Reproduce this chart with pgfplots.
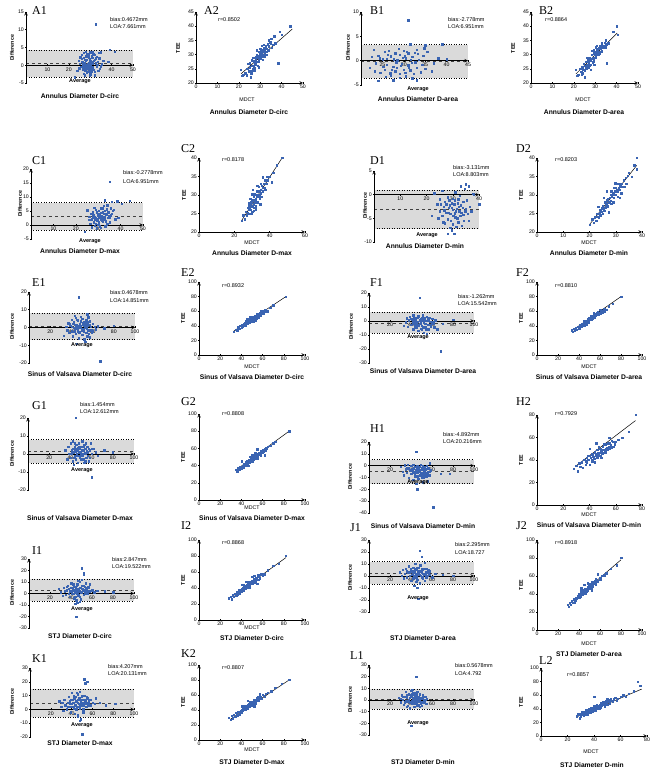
\documentclass[border=0pt]{standalone}
\usepackage{fontspec}
\setmainfont{Liberation Sans}
\newfontfamily\lf{Liberation Serif}
\usepackage{pgfplots}
\pgfplotsset{compat=1.18}
\definecolor{ptb}{RGB}{58,100,178}
\definecolor{bandg}{RGB}{218,218,218}
\pgfplotsset{
 common/.style={scale only axis, clip=false, axis on top,
   tick label style={font=\fontsize{5.2}{6}\selectfont},
   /pgf/number format/assume math mode=true,
   tick align=outside, major tick length=2pt,
   axis line style={line width=0.6pt,-},
   every tick/.style={line width=0.5pt, black},
   xticklabel style={inner sep=1pt}, yticklabel style={inner sep=1pt},
   hide obscured x ticks=false, hide obscured y ticks=false,
   anchor=south west},
 ba/.style={common, axis y line=left, axis x line=middle},
 sc/.style={common, axis lines=left},
 pts/.style={only marks, mark=square*, mark size=0.7pt, color=ptb, mark options={draw=ptb, fill=ptb}},
 reg/.style={black, line width=0.5pt, no marks},
 meanl/.style={black!75, dashed, line width=0.5pt, no marks},
 loal/.style={black, dotted, line width=0.5pt, no marks},
}
\tikzset{
 lt/.style={font=\lf\fontsize{12}{12}\selectfont, anchor=base west, inner sep=0},
 bt/.style={font=\fontsize{5.5}{6.6}\selectfont, anchor=base west, inner sep=0},
 ttl/.style={font=\bfseries\fontsize{6.7}{8}\selectfont, anchor=base, inner sep=0},
 dl/.style={font=\bfseries\fontsize{5.3}{6}\selectfont, rotate=90, anchor=center, inner sep=0},
 al/.style={font=\bfseries\fontsize{5.5}{6}\selectfont, anchor=base, inner sep=0},
 ml/.style={font=\fontsize{5.3}{6}\selectfont, anchor=base, inner sep=0},
}
\newcommand{\band}[4]{% xmin xmax lo hi
 \fill[bandg] (axis cs:#1,#3) rectangle (axis cs:#2,#4);
 \addplot[loal] coordinates {(#1,#3)(#2,#3)};
 \addplot[loal] coordinates {(#1,#4)(#2,#4)};}
\begin{document}
\begin{tikzpicture}[x=1pt,y=1pt]
\useasboundingbox (0,0) rectangle (669,776);
% ---------------- Row 1 ----------------
\begin{axis}[ba, at={(26pt,{(776-83)*1pt})}, width=107pt, height=71pt, xmin=0,xmax=50,ymin=-5,ymax=15, xtick={10,20,30,40,50}, ytick={-5,0,5,10,15}]
\band{0}{50}{-3.4}{4.3}
\addplot[meanl] coordinates {(0,0.47)(50,0.47)};
\addplot[pts] coordinates {(32.5,11.6)(39,4.3)(41.5,3.8)(22.8,-3.4)(27,3.6)(28,3.8)(30,3.7)(31,3.8)(34,3.5)(35,3.7)(36,1.2)(38.5,1.0)(25,0.5)(26,1.8)(26.5,-1.2)(27,2.2)(27.5,0.8)(28,-0.5)(28.5,1.5)(29,2.8)(29,-1.8)(29.5,0.2)(30,1.1)(30,-2.5)(30.5,-0.8)(31,2.1)(31,0.4)(31.5,-1.3)(32,1.6)(32,-2.8)(32.5,0.6)(33,-0.3)(33,2.4)(24,-1.6)(24.5,1.2)(25.5,-0.4)(26,2.9)(27,-2.3)(28,0.1)(28.8,-0.9)(29.8,1.9)(30.8,-1.6)(31.8,2.9)(33.5,1.0)(34.5,-1.0)(35.5,0.3)(26.8,0.3)(29.2,0.6)(30.2,-0.2)(27.8,1.2)
(26.2,1.0)(26.7,-0.6)(27.3,1.6)(27.7,-1.4)(28.1,2.5)(28.4,-2.0)(28.7,0.5)(29.1,-0.3)(29.4,2.2)(29.6,-1.1)(30.1,0.4)(30.4,-1.9)(30.6,2.6)(30.9,0.9)(31.3,-0.5)(31.6,1.2)(32.2,-1.8)(32.7,2.0)(33.2,0.2)(33.8,-1.5)(34.2,2.0)(35,-0.3)(25.3,2.3)(24.8,-0.8)(28.6,3.2)(31.4,3.3)(27.4,-2.8)(29.9,-3.0)};
\end{axis}
\begin{axis}[sc, at={(196pt,{(776-83)*1pt})}, width=107pt, height=71pt, xmin=0,xmax=50,ymin=20,ymax=45, xtick={0,10,...,50}, ytick={20,25,...,45}]
\addplot[pts] coordinates {(21,24.7)(21.5,22.5)(22,23)(23,23.5)(24,25)(24.5,24)(25,25.5)(25,27)(25.5,22)(26,26)(26,28)(26.5,25)(27,27.5)(27,26)(27.5,29)(28,28)(28,26.5)(28.5,30)(29,29)(29,27.5)(29.5,31)(30,30)(30,28.5)(30,32)(30.5,29.5)(31,31)(31,30)(31.5,32.5)(32,30.5)(32,31.5)(32.5,33)(33,32)(33,30)(34,33)(34,35)(35,34)(35.5,32.5)(36,33.5)(37,34)(38.5,27)(39,38)(40,37)(44,40)(27.5,24.5)(26.5,29)(29.2,25.5)(31.2,28.2)(24.2,26.7)(28.3,31.5)(30.8,33.2)
(25.8,23.5)(26.8,27.8)(27.6,27)(28.6,28.8)(29.4,28.3)(29.8,30.6)(30.3,31.3)(30.7,30.8)(31.4,31.6)(31.8,29.4)(32.3,32.2)(32.8,31)(33.4,33.6)(28.8,26)(27.2,25.2)(26.2,24.3)(24.8,24.2)(23.6,22.8)(33.7,31.5)(34.6,34.3)(35.2,35.5)(36.6,36.5)(29.6,29.6)(31.6,33.5)(28.1,29.3)};
\addplot[reg] coordinates {(21,23.2)(45,39)};
\end{axis}
\begin{axis}[ba, at={(361pt,{(776-85)*1pt})}, width=107pt, height=73pt, xmin=20,xmax=45,ymin=-5,ymax=10, xtick={25,30,...,45}, ytick={-5,0,5,10}]
\band{20}{45}{-3.6}{3.3}
\addplot[meanl] coordinates {(20,-0.1)(45,-0.1)};
\addplot[pts] coordinates {(31,8.3)(24,-4.1)(27.5,-4.0)(33,-4.0)(35,3.2)(39,3.4)(31.5,3.4)(38,0.5)(40,0.3)(22,-1.5)(23,2.2)(23.5,-0.5)(24,1.0)(24.5,-2.5)(25,0.3)(25.5,1.8)(25.5,-1.8)(26,-0.8)(26.5,2.0)(27,-3.0)(27,0.9)(27.5,-1.2)(28,1.5)(28,-2.2)(28.5,0.1)(29,-3.5)(29,1.2)(29.5,-0.6)(30,2.1)(30,-1.9)(30.5,0.5)(30.5,-3.2)(31,1.5)(31,-0.9)(31.5,-2.0)(32,0.8)(32,-3.6)(32.5,1.6)(33,-1.4)(33.5,0.2)(34,-2.4)(34.5,1.0)(33,2.3)(29,-2.7)(26,0.4)(28.2,-0.3)(30.2,0.9)(27.2,-1.9)(31.8,-0.4)
(24.3,0.5)(25.2,-1.3)(26.2,1.2)(26.8,-2.6)(27.6,0.3)(28.4,-1.5)(28.8,2.4)(29.3,-1.0)(29.7,0.6)(30.3,-2.5)(30.7,1.9)(31.2,-1.5)(31.6,0.2)(32.3,-2.7)(32.7,-0.3)(33.3,1.4)(34.3,-0.8)(35,-1.6)(35.5,1.8)(36.5,-2.2)(37,-0.5)(25.8,-3.3)(23.2,-2.2)(22.5,0.8)(34.8,2.6)};
\end{axis}
\begin{axis}[sc, at={(531pt,{(776-83)*1pt})}, width=107pt, height=71pt, xmin=0,xmax=50,ymin=20,ymax=45, xtick={0,10,...,50}, ytick={20,25,...,45}]
\addplot[pts] coordinates {(21,24.7)(21.5,22.5)(22,23)(23,25)(23.5,24)(24,25.5)(24,23.5)(25,26)(25,24.5)(25.5,27.5)(26,26.5)(26,25)(26.5,28)(27,27)(27,25.5)(27.5,29)(28,28)(28,26.5)(28.5,30)(29,29)(29,27.5)(29.5,30.5)(30,31)(30,29)(30.5,30)(31,32)(31,30.5)(31.5,31)(32,33)(32,31)(32.5,32)(33,34)(33.5,32.5)(34,33)(35,35)(35.5,27)(36,34)(38.5,38)(40,40)(40.5,37)(28.3,31.3)(26.3,29)(24.6,26.8)(29.5,26.4)(30.8,33.2)(27.8,24.7)(33,31.2)(25.2,22.1)
(25.8,25.3)(26.8,27.6)(27.4,26.3)(28.6,28.6)(29.3,28.3)(29.8,30.2)(30.3,29.6)(30.7,31.5)(31.3,31.4)(31.8,32.2)(32.2,30.4)(32.8,33.2)(33.3,32.7)(34.3,34.2)(34.6,32.6)(28.8,27.3)(27.2,28.3)(26.2,26.2)(24.3,24.7)(23.6,23.1)(30.2,32.6)(29.2,31.6)(35.2,33.6)(31.6,30.1)};
\addplot[reg] coordinates {(21,23.2)(40.3,37.6)};
\end{axis}
\node[lt] at (32,{776-15}) {A1};
\node[bt] at (110,{776-22}) {bias:0.4672mm};
\node[bt] at (110,{776-28.5}) {LOA:7.661mm};
\node[dl] at (12,{776-48}) {Difference};
\node[al] at (80,{776-83}) {Average};
\node[ttl] at (80,{776-99}) {Annulus Diameter D-circ};
\node[lt] at (204,{776-15}) {A2};
\node[bt] at (218,{776-22}) {r=0.8502};
\node[dl] at (178,{776-48}) {TEE};
\node[ml] at (247,{776-102}) {MDCT};
\node[ttl] at (249,{776-115}) {Annulus Diameter D-circ};
\node[lt] at (370,{776-15}) {B1};
\node[bt] at (448,{776-22}) {bias:-2.778mm};
\node[bt] at (448,{776-28.5}) {LOA:6.951mm};
\node[dl] at (348,{776-48}) {Difference};
\node[al] at (418,{776-91}) {Average};
\node[ttl] at (418,{776-101.5}) {Annulus Diameter D-area};
\node[lt] at (539,{776-15}) {B2};
\node[bt] at (545,{776-22}) {r=0.8864};
\node[dl] at (513,{776-48}) {TEE};
\node[ml] at (583,{776-102}) {MDCT};
\node[ttl] at (584,{776-115}) {Annulus Diameter D-area};
% ---------------- Row 2 ----------------
\begin{axis}[ba, at={(31pt,{(776-239)*1pt})}, width=112pt, height=70pt, xmin=0,xmax=50,ymin=-5,ymax=20, xtick={10,20,30,40,50}, ytick={-5,0,5,10,15,20}]
\band{0}{50}{-1.7}{8.0}
\addplot[meanl] coordinates {(0,3.3)(50,3.3)};
\addplot[pts] coordinates {(35,15.5)(44,8.7)(40.5,7.7)(38.5,8.5)(36,8.3)(33,8.8)(24,-2.3)(25,5.3)(26,3.0)(26.5,0.5)(27,2.0)(27.5,4.5)(28,1.0)(28,3.5)(28.5,-0.3)(29,2.5)(29,5.5)(29.5,1.5)(30,4.0)(30,0.2)(30.5,2.8)(31,6.0)(31,-1.0)(31.5,3.2)(32,4.8)(32,1.2)(32.5,6.8)(33,2.0)(33,5.0)(33.5,3.8)(34,7.0)(34,0.5)(34.5,4.5)(35,2.8)(35.5,6.0)(36,4.0)(37,5.5)(37.5,2.0)(39,2.5)(27,-0.8)(26,1.8)(29.3,-1.2)(31.2,2.0)(32.8,3.0)(30.2,5.0)(28.2,6.2)(33.2,-0.5)(35.2,1.0)
(28.7,2.0)(29.7,3.5)(30.3,1.0)(30.8,3.7)(31.3,4.3)(31.7,1.7)(32.2,2.6)(32.6,4.0)(33.3,1.4)(33.7,5.7)(34.2,2.5)(34.7,3.2)(29.2,4.6)(28.3,2.8)(27.7,3.2)(26.8,4.0)(30.6,-0.5)(32.1,6.0)(33.8,0.0)(35.7,3.5)(36.5,5.0)(31.9,3.0)(29.9,2.2)(28.9,0.4)};
\end{axis}
\begin{axis}[sc, at={(199pt,{(776-232)*1pt})}, width=106pt, height=74pt, xmin=0,xmax=60,ymin=20,ymax=40, xtick={0,20,40,60}, ytick={20,25,...,40}]
\addplot[pts] coordinates {(24,23)(25,24.5)(26,23.5)(26.5,25.5)(27,24.5)(27.5,26.5)(28,25)(28.5,27)(29,26)(29.5,28)(30,27)(30,25.5)(30.5,28.5)(31,27.5)(31,29.5)(31.5,28)(32,29)(32,27)(32.5,30)(33,29.5)(33,28)(33.5,31)(34,30)(34.5,29)(35,31.5)(35,30.5)(35.5,32.5)(36,31)(36.5,33)(37,32)(37.5,34)(38,33)(39,34)(40,35)(41,33.5)(42,36)(44,38)(47,40)(29,29)(31,25.8)(33,32.5)(34.6,27.5)(36,34.8)(28,27.8)(30,30.2)
(29.2,27.2)(30.2,28.8)(30.8,26.6)(31.4,30.2)(31.8,28.6)(32.4,28.2)(32.8,31)(33.4,29.6)(33.8,32.2)(34.3,31.2)(34.8,33.1)(35.3,29.6)(29.6,25)(28.4,26.2)(27.6,25.2)(36.3,32)(37.4,31.4)(38.5,35)(32.2,26.2)(30.5,31.5)};
\addplot[reg] coordinates {(24,23)(47,40)};
\end{axis}
\begin{axis}[ba, at={(374pt,{(776-242)*1pt})}, width=105pt, height=71pt, xmin=0,xmax=40,ymin=-10,ymax=5, xtick={10,20,30,40}, ytick={-10,-5,0,5}]
\band{0}{40}{-7.2}{0.9}
\addplot[meanl] coordinates {(0,-3.1)(40,-3.1)};
\addplot[pts] coordinates {(22,-4.5)(23,0.3)(24,-2.0)(24.5,-5.0)(25,-3.5)(25,-1.0)(26,0.8)(26,-4.5)(26.5,-2.5)(27,-6.0)(27,-1.5)(27.5,-3.8)(28,-0.5)(28,-5.2)(28.5,-2.8)(29,-7.0)(29,-4.0)(29.5,-1.8)(30,-3.2)(30,-6.2)(30.5,-2.0)(31,-4.8)(31,0.5)(31.5,-3.0)(32,-1.0)(32,-5.8)(32.5,-3.5)(33,-2.2)(33,1.8)(34,-4.2)(34,-1.5)(35,2.2)(35,-3.0)(36,1.8)(36,-5.5)(34.5,1.2)(37.5,0.2)(38,0.1)(40,-2.0)(28,-8.2)(30.5,-8.3)(29.5,-7.5)(33.5,-6.5)(26.8,-3.3)(30.8,-3.9)(32.8,-4.5)(28.8,-2.2)(31.8,-1.8)
(27.5,-2.0)(28.2,-3.8)(28.7,-1.2)(29.2,-5.5)(29.7,-2.8)(30.2,-4.5)(30.7,-1.2)(31.2,-3.5)(31.7,-5.0)(32.2,-2.5)(32.7,-0.2)(33.2,-3.8)(33.7,-2.8)(34.2,-5.5)(34.7,-3.5)(35.2,-1.2)(35.7,-4.0)(36.5,-2.5)(37,-3.5)(30,-0.8)(31.3,-6.8)(26.3,-5.8)(25.5,-2.0)};
\end{axis}
\begin{axis}[sc, at={(537pt,{(776-232)*1pt})}, width=105pt, height=74pt, xmin=0,xmax=40,ymin=20,ymax=40, xtick={0,10,...,40}, ytick={20,25,...,40}]
\addplot[pts] coordinates {(20,22)(21,23.5)(21.5,22.5)(22,24)(22.5,23)(23,25)(23.5,24)(24,26)(24,24.5)(24.5,25.5)(25,27)(25,25)(25.5,26)(26,28)(26,26.5)(26.5,27.5)(27,29)(27,27)(27.5,28)(28,30)(28,28.5)(28.5,29.5)(29,30.5)(29,28)(29.5,31)(30,30)(30,32)(30.5,31)(31,33)(31.5,31.5)(32,33)(32,30.5)(33,34)(34,33)(35,36)(36,35)(37,38)(38,40)(38,37)(25.3,29.2)(27.3,25.3)(29.8,33.2)(23.3,26.8)(31.4,29.2)(26.6,31)
(26.2,27.2)(26.8,28.6)(27.4,28.2)(27.8,29.3)(28.3,27.6)(28.8,30.2)(29.3,29.3)(29.7,30.1)(30.3,31.3)(30.7,29.5)(31.2,31.8)(31.7,32.4)(32.4,32.2)(33.3,32.3)(33.7,34.6)(24.8,26.4)(25.6,25.7)(23.8,25.2)(22.8,24.2)(29.4,32)(28.2,31)(34.5,35.2)};
\addplot[reg] coordinates {(20,22)(38,38)};
\end{axis}
\node[lt] at (32,{776-165}) {C1};
\node[bt] at (123,{776-175}) {bias:-0.2778mm};
\node[bt] at (123,{776-184}) {LOA:6.951mm};
\node[dl] at (20,{776-204}) {Difference};
\node[al] at (90,{776-243}) {Average};
\node[ttl] at (80,{776-254}) {Annulus Diameter D-max};
\node[lt] at (181,{776-153}) {C2};
\node[bt] at (222,{776-162}) {r=0.8178};
\node[dl] at (184,{776-195}) {TEE};
\node[ml] at (252,{776-245}) {MDCT};
\node[ttl] at (252,{776-256}) {Annulus Diameter D-max};
\node[lt] at (370,{776-165}) {D1};
\node[bt] at (453,{776-170}) {bias:-3.131mm};
\node[bt] at (453,{776-177}) {LOA:8.803mm};
\node[dl] at (365,{776-206}) {Difference};
\node[al] at (427,{776-237}) {Average};
\node[ttl] at (425,{776-249}) {Annulus Diameter D-min};
\node[lt] at (516,{776-153}) {D2};
\node[bt] at (555,{776-162}) {r=0.8203};
\node[dl] at (521,{776-195}) {TEE};
\node[ml] at (589,{776-245}) {MDCT};
\node[ttl] at (589,{776-256}) {Annulus Diameter D-min};
% ---------------- Row 3 ----------------
\begin{axis}[ba, at={(29pt,{(776-363)*1pt})}, width=106pt, height=71pt, xmin=0,xmax=100,ymin=-20,ymax=20, xtick={20,40,...,100}, ytick={-20,-10,...,20}]
\band{0}{100}{-6.9}{8.2}
\addplot[meanl] coordinates {(0,0.5)(100,0.5)};
\addplot[pts] coordinates {(47,17)(67,-19)(45,-9)(80,1)(71,-0.5)(55,7.5)(33,-4.5)(35,0.5)(36,-1.5)(37,2.5)(38,-3.0)(39,1.0)(40,4.5)(40,-2.0)(41,-5.0)(42,0.0)(42,3.0)(43,-1.0)(44,5.5)(44,-3.5)(45,1.5)(46,-0.5)(46,3.8)(47,-6.0)(48,2.0)(48,-2.5)(49,0.8)(50,5.0)(50,-4.0)(51,1.5)(51,-1.0)(52,3.0)(52,-6.5)(53,0.0)(54,4.2)(54,-2.8)(55,1.2)(56,-1.5)(57,3.5)(57,-5.5)(58,0.5)(59,-3.0)(60,2.0)(62,0.5)(63,-1.0)(43,6.5)(49,6.0)(53,-8.0)(56,5.8)
(41.5,2.0)(42.5,-2.5)(43.5,1.5)(44.5,-0.5)(45.5,4.5)(46.5,1.0)(47.5,-3.0)(48.5,3.5)(49.5,-1.0)(50.5,2.5)(51.5,-2.0)(52.5,0.8)(53.5,2.5)(54.5,-0.5)(55.5,3.0)(56.5,-3.5)(57.5,1.5)(58.5,-1.5)(46,-2)(48,0)(50,-1.5)(52,1.2)(44,0.8)(40,0.5)(38,2)(55,-4.8)(60,-2)(65,0.8)};
\end{axis}
\begin{axis}[sc, at={(199pt,{(776-355)*1pt})}, width=106pt, height=73pt, xmin=0,xmax=100,ymin=0,ymax=100, xtick={0,20,...,100}, ytick={0,20,...,100}]
\addplot[pts] coordinates {(33,32)(35,35)(36,33)(37,38)(38,36)(39,40)(40,37)(40,41)(41,39)(42,43)(42,40)(43,42)(44,45)(44,41)(45,44)(46,47)(46,43)(47,46)(48,48)(48,45)(49,50)(50,47)(50,52)(51,49)(52,51)(52,48)(53,54)(54,50)(54,53)(55,56)(56,52)(56,55)(57,58)(58,54)(59,57)(60,60)(61,57)(62,59)(63,62)(65,60)(67,65)(70,68)(82,80)(45,50)(53,47)(58,60)(48,52)
(41.5,40)(42.5,41.5)(43.5,44)(44.5,43)(45.5,45.5)(46.5,44.5)(47.5,47.5)(48.5,46.5)(49.5,48)(50.5,49.5)(51.5,51)(52.5,50)(53.5,52)(54.5,52)(55.5,53.5)(56.5,56.5)(57.5,55)(47,49)(51,46)(55,51)(44,47)(49,52)(60,58)(62,62)(64,60)};
\addplot[reg] coordinates {(33,33)(82,80)};
\end{axis}
\begin{axis}[ba, at={(369pt,{(776-363)*1pt})}, width=105pt, height=70pt, xmin=0,xmax=100,ymin=-30,ymax=20, xtick={20,40,...,100}, ytick={-30,-20,...,20}]
\band{0}{100}{-8.7}{6.6}
\addplot[meanl] coordinates {(0,-1.3)(100,-1.3)};
\addplot[pts] coordinates {(48,16.5)(68,-21.5)(80,1)(70,-2)(65,-6)(33,-3.5)(35,-1.0)(36,2.0)(37,-4.0)(38,0.5)(39,3.0)(40,-2.5)(41,1.0)(42,-6.0)(42,4.0)(43,-1.5)(44,0.0)(45,2.5)(45,-4.5)(46,-0.5)(47,3.5)(47,-7.0)(48,-2.0)(49,1.5)(50,-3.5)(50,0.5)(51,4.0)(52,-1.0)(52,-8.5)(53,2.0)(54,-4.0)(54,0.0)(55,3.0)(56,-2.5)(57,-6.0)(57,1.0)(58,-0.5)(59,-3.0)(60,1.5)(61,-1.5)(62,-4.5)(63,0.5)(49,-5.5)(44,-3.0)(55,-9.0)(58,2.5)
(41.5,-1.0)(42.5,2.0)(43.5,-3.0)(44.5,1.5)(45.5,-1.5)(46.5,2.5)(47.5,-3.0)(48.5,0.5)(49.5,-1.5)(50.5,2.0)(51.5,-4.5)(52.5,1.0)(53.5,-2.0)(54.5,-6.0)(55.5,0.0)(56.5,2.0)(57.5,-2.5)(58.5,-4.0)(46,-3.5)(48,1.0)(50,-6.0)(52,2.5)(44,-5.0)(40,1.5)(60,-1.0)(56,-5.5)};
\end{axis}
\begin{axis}[sc, at={(537pt,{(776-355)*1pt})}, width=105pt, height=73pt, xmin=0,xmax=100,ymin=0,ymax=100, xtick={0,20,...,100}, ytick={0,20,...,100}]
\addplot[pts] coordinates {(33,34)(34,32)(35,36)(36,34)(37,37)(38,35)(39,39)(40,38)(40,36)(41,41)(42,39)(43,43)(43,40)(44,42)(45,45)(46,43)(46,47)(47,45)(48,49)(48,46)(49,47)(50,50)(50,48)(51,52)(52,49)(52,51)(53,53)(54,51)(55,55)(55,52)(56,54)(57,57)(58,55)(58,59)(60,57)(61,60)(62,58)(64,63)(66,62)(68,67)(72,70)(80,80)(45,40)(54,57)(60,62)(49,44)
(41.5,40)(42.5,42)(43.5,41.5)(44.5,44)(45.5,43)(46.5,45.5)(47.5,47)(48.5,47.5)(49.5,49)(50.5,49)(51.5,50.5)(52.5,52.5)(53.5,51.5)(54.5,54)(55.5,53.5)(56.5,56)(57.5,55.5)(47,42)(51,54)(53,50)(45,47)(59,56)(62,61)(64,60)(49,51)};
\addplot[reg] coordinates {(33,33)(80,80)};
\end{axis}
\node[lt] at (32,{776-287}) {E1};
\node[bt] at (110,{776-295}) {bias:0.4678mm};
\node[bt] at (110,{776-303}) {LOA:14.851mm};
\node[dl] at (12,{776-327}) {Difference};
\node[al] at (82,{776-347}) {Average};
\node[ttl] at (80,{776-377}) {Sinus of Valsava Diameter D-circ};
\node[lt] at (181,{776-277}) {E2};
\node[bt] at (222,{776-288}) {r=0.8932};
\node[dl] at (183,{776-318}) {TEE};
\node[ml] at (252,{776-369}) {MDCT};
\node[ttl] at (252,{776-380}) {Sinus of Valsava Diameter D-circ};
\node[lt] at (370,{776-287}) {F1};
\node[bt] at (458,{776-299}) {bias:-1.262mm};
\node[bt] at (458,{776-306}) {LOA:15.542mm};
\node[dl] at (351,{776-327}) {Difference};
\node[al] at (418,{776-339}) {Average};
\node[ttl] at (423,{776-374}) {Sinus of Valsava Diameter D-area};
\node[lt] at (516,{776-277}) {F2};
\node[bt] at (555,{776-288}) {r=0.8810};
\node[dl] at (521,{776-318}) {TEE};
\node[ml] at (589,{776-369}) {MDCT};
\node[ttl] at (589,{776-380}) {Sinus of Valsava Diameter D-area};
% ---------------- Row 4 ----------------
\begin{axis}[ba, at={(28pt,{(776-490)*1pt})}, width=106pt, height=72pt, xmin=0,xmax=100,ymin=-20,ymax=20, xtick={20,40,...,100}, ytick={-20,-10,...,20}]
\band{0}{100}{-5}{8}
\addplot[meanl] coordinates {(0,1.5)(100,1.5)};
\addplot[pts] coordinates {(45,20)(60,-13)(35,2)(37,-3)(38,4)(39,0)(40,6)(40,-2)(41,2)(42,-4)(42,7)(43,1)(44,-1)(44,4)(45,3)(45,-3)(46,0)(46,5)(47,2)(47,-5)(48,1)(48,6)(49,-2)(49,3)(50,0)(50,4)(51,-1)(51,7)(52,2)(52,-3)(53,5)(54,0)(54,3)(55,-2)(56,4)(56,1)(57,-4)(58,2)(59,6)(60,0)(62,3)(64,1)(66,-1)(72,2)(80,1)(43,-6)(53,-5)
(41.5,0.5)(42.5,3)(43.5,-2)(44.5,1.5)(45.5,5)(46.5,-1)(47.5,3.5)(48.5,-1)(49.5,1)(50.5,2.5)(51.5,-2.5)(52.5,4)(53.5,0.5)(54.5,6)(55.5,1.5)(56.5,-1)(57.5,3)(46,2)(48,4)(50,-3)(52,0)(44,6)(58,-2)(60,3)(54,-4)};
\end{axis}
\begin{axis}[sc, at={(199pt,{(776-500)*1pt})}, width=106pt, height=86pt, xmin=0,xmax=100,ymin=0,ymax=100, xtick={0,20,...,100}, ytick={0,20,...,100}]
\addplot[pts] coordinates {(35,35)(36,33)(37,37)(38,36)(39,39)(40,37)(41,40)(42,38)(42,42)(43,41)(44,44)(44,40)(45,43)(46,45)(46,42)(47,47)(48,44)(48,46)(49,48)(50,45)(50,50)(51,47)(52,49)(52,52)(53,48)(54,51)(54,54)(55,50)(56,53)(57,55)(58,52)(58,57)(59,55)(60,58)(61,56)(62,59)(63,57)(64,60)(65,62)(67,63)(70,66)(72,68)(85,80)(40,45)(47,40)(55,59)(62,52)
(43.5,42)(44.5,42.5)(45.5,45)(46.5,44)(47.5,45.5)(48.5,47.5)(49.5,46.5)(50.5,48.5)(51.5,49.5)(52.5,50)(53.5,51.5)(54.5,52.5)(55.5,53)(56.5,54.5)(57.5,53.5)(58.5,55.5)(59.5,57)(45,40)(50,52)(53,55)(48,50)(55,48)(60,55)(63,61)};
\addplot[reg] coordinates {(35,35)(85,80)};
\end{axis}
\begin{axis}[ba, at={(369pt,{(776-513)*1pt})}, width=105pt, height=71pt, xmin=0,xmax=100,ymin=-40,ymax=20, xtick={20,40,...,100}, ytick={-40,-30,...,20}]
\band{0}{100}{-15.2}{5}
\addplot[meanl] coordinates {(0,-4.9)(100,-4.9)};
\addplot[pts] coordinates {(45,12)(46,-20)(61,-35)(68,-7)(77,-7)(30,-1)(32,-5)(33,-8)(34,0.5)(35,-3)(36,-6)(37,1)(38,-10)(38,-2)(39,-4)(40,0)(40,-7)(41,-3)(42,-12)(42,1)(43,-5)(44,-1)(44,-9)(45,-4)(46,0)(46,-6)(47,-2)(47,-11)(48,-4)(49,1)(49,-8)(50,-3)(50,-6)(51,0)(52,-10)(52,-4)(53,-1)(54,-7)(54,-3)(55,0)(56,-5)(56,-13)(57,-2)(58,2)(58,-8)(59,-4)(45,-15)(51,-14)
(41.5,-6)(42.5,-2)(43.5,-8)(44.5,-4)(45.5,-1)(46.5,-9)(47.5,-5)(48.5,-1)(49.5,-6)(50.5,-2)(51.5,-8)(52.5,-5)(53.5,-3)(54.5,-9)(55.5,-6)(56.5,-2)(57.5,-5)(40,-4)(44,-6)(48,-8)(52,-7)(56,-8)(46,-3)(50,-10)(36,-2)};
\end{axis}
\begin{axis}[sc, at={(537pt,{(776-505)*1pt})}, width=105pt, height=90pt, xmin=0,xmax=80,ymin=0,ymax=80, xtick={0,20,...,80}, ytick={0,20,...,80}]
\addplot[pts] coordinates {(28,32)(30,35)(31,30)(32,37)(33,34)(34,38)(35,33)(36,40)(37,36)(38,42)(38,38)(39,40)(40,44)(40,36)(41,42)(42,45)(42,39)(43,43)(44,47)(44,41)(45,45)(46,49)(46,42)(47,46)(48,50)(48,44)(49,48)(50,52)(50,46)(51,49)(52,54)(52,47)(53,51)(54,55)(55,50)(56,53)(57,57)(58,52)(60,56)(62,58)(65,60)(70,65)(75,80)(45,55)(40,50)(55,60)
(41.5,40)(42.5,43)(43.5,41)(44.5,44)(45.5,43)(46.5,46)(47.5,44)(48.5,47)(49.5,46)(50.5,49)(51.5,48)(52.5,50)(53.5,49)(54.5,52)(55.5,55)(56.5,51)(58,56)(47,52)(49,42)(51,54)(44,38)(39,44)(37,39)(59,54)};
\addplot[reg] coordinates {(30,35)(75,75)};
\end{axis}
\node[lt] at (32,{776-410}) {G1};
\node[bt] at (80,{776-407}) {bias:1.454mm};
\node[bt] at (80,{776-414}) {LOA:12.612mm};
\node[dl] at (12,{776-454}) {Difference};
\node[al] at (82,{776-472}) {Average};
\node[ttl] at (80,{776-521}) {Sinus of Valsava Diameter D-max};
\node[lt] at (181,{776-406}) {G2};
\node[bt] at (222,{776-416}) {r=0.8808};
\node[dl] at (183,{776-457}) {TEE};
\node[ml] at (252,{776-510}) {MDCT};
\node[ttl] at (252,{776-521}) {Sinus of Valsava Diameter D-max};
\node[lt] at (370,{776-433}) {H1};
\node[bt] at (443,{776-437}) {bias:-4.892mm};
\node[bt] at (443,{776-444}) {LOA:20.216mm};
\node[dl] at (350,{776-477}) {Difference};
\node[al] at (418,{776-484}) {Average};
\node[ttl] at (423,{776-529}) {Sinus of Valsava Diameter D-min};
\node[lt] at (516,{776-406}) {H2};
\node[bt] at (555,{776-416}) {r=0.7929};
\node[dl] at (521,{776-460}) {TEE};
\node[ml] at (589,{776-517}) {MDCT};
\node[ttl] at (589,{776-528}) {Sinus of Valsava Diameter D-min};
% ---------------- Row 5 ----------------
\begin{axis}[ba, at={(29pt,{(776-628)*1pt})}, width=105pt, height=69pt, xmin=0,xmax=100,ymin=-30,ymax=30, xtick={20,40,...,100}, ytick={-30,-20,...,30}]
\band{0}{100}{-6.6}{12.4}
\addplot[meanl] coordinates {(0,3)(100,3)};
\addplot[pts] coordinates {(50,22)(52,16.5)(52,18)(45,-20)(80,1)(72,2)(65,2.5)(28,4)(30,1)(32,-2)(33,5)(34,2)(35,-1)(36,3)(37,7)(38,0)(38,4)(39,-3)(40,2)(40,9)(41,5)(42,0)(42,3)(43,-4)(44,6)(44,1)(45,-6)(45,3)(46,8)(46,0)(47,4)(47,-2)(48,10)(48,2)(49,-5)(49,5)(50,1)(50,12)(51,3)(52,-1)(53,6)(53,2)(54,9)(55,4)(56,0)(57,5)(58,2)(60,3)(62,1)(44,-9)(46,-8)(48,-7)
(38.5,2)(39.5,5)(40.5,0)(41.5,3)(42.5,6)(43.5,1)(44.5,4)(45.5,7)(46.5,2)(47.5,-1)(48.5,5)(49.5,1)(50.5,4)(51.5,7)(52.5,3)(53.5,0)(54.5,5)(55.5,2)(56.5,6)(44,-3)(46,3)(48,-3)(50,7)(42,8)(36,6)(58,8)(47,11)};
\end{axis}
\begin{axis}[sc, at={(199pt,{(776-620)*1pt})}, width=106pt, height=80pt, xmin=0,xmax=100,ymin=0,ymax=100, xtick={0,20,...,100}, ytick={0,20,...,100}]
\addplot[pts] coordinates {(28,27)(30,29)(31,26)(32,31)(33,29)(34,33)(35,30)(36,35)(36,32)(37,34)(38,37)(38,33)(39,36)(40,39)(40,35)(41,38)(42,41)(42,37)(43,40)(44,43)(44,39)(45,42)(46,45)(46,41)(47,44)(48,47)(48,43)(49,46)(50,49)(50,45)(51,48)(52,51)(53,47)(54,53)(55,50)(56,56)(57,52)(58,57)(60,58)(62,57)(65,62)(70,68)(75,70)(82,80)(44,48)(50,54)(40,44)(55,45)
(38.5,35)(39.5,38)(40.5,37)(41.5,40)(42.5,39)(43.5,42)(44.5,41)(45.5,44)(46.5,43)(47.5,46)(48.5,45)(49.5,48)(50.5,47)(51.5,50)(52.5,49)(53.5,52)(54.5,51)(55.5,54)(46,48)(48,40)(52,55)(42,44)(56,50)(60,55)};
\addplot[reg] coordinates {(30,28)(82,78)};
\end{axis}
\begin{axis}[ba, at={(369pt,{(776-612)*1pt})}, width=105pt, height=72pt, xmin=0,xmax=100,ymin=-30,ymax=30, xtick={20,40,...,100}, ytick={-30,-20,...,30}]
\band{0}{100}{-7}{12}
\addplot[meanl] coordinates {(0,2.3)(100,2.3)};
\addplot[pts] coordinates {(48,21)(50,16)(47,-19)(80,0)(70,1)(63,2)(29,3)(31,0)(32,5)(33,-2)(34,2)(35,6)(36,-1)(37,3)(38,8)(39,0)(40,4)(40,-4)(41,1)(42,7)(42,-2)(43,3)(44,10)(44,-1)(45,5)(45,1)(46,-3)(46,7)(47,2)(48,-6)(48,4)(49,0)(49,9)(50,3)(51,-2)(51,5)(52,1)(53,11)(53,-4)(54,3)(55,6)(56,0)(57,2)(58,4)(60,-1)(43,-8)(46,-10)
(38.5,3)(39.5,6)(40.5,1)(41.5,4)(42.5,0)(43.5,6)(44.5,2)(45.5,-1)(46.5,4)(47.5,7)(48.5,1)(49.5,4)(50.5,-1)(51.5,2)(52.5,6)(53.5,1)(54.5,-1)(55.5,3)(56.5,5)(44,5)(46,1)(48,9)(50,6)(42,3)(36,4)(58,1)(45,-5)};
\end{axis}
\begin{axis}[sc, at={(537pt,{(776-630)*1pt})}, width=105pt, height=90pt, xmin=0,xmax=100,ymin=0,ymax=100, xtick={0,20,...,100}, ytick={0,20,...,100}]
\addplot[pts] coordinates {(29,28)(30,26)(31,30)(32,28)(33,32)(34,30)(35,34)(36,31)(37,36)(37,33)(38,35)(39,38)(40,36)(40,40)(41,37)(42,42)(43,39)(44,41)(44,45)(45,42)(46,46)(47,43)(48,48)(48,44)(49,47)(50,51)(50,46)(51,49)(52,53)(53,48)(54,52)(55,55)(56,51)(57,56)(58,54)(60,58)(62,60)(64,61)(66,63)(70,68)(76,72)(80,80)(45,50)(52,44)(58,62)(42,47)
(38.5,37)(39.5,36)(40.5,38)(41.5,40)(42.5,40)(43.5,43)(44.5,43)(45.5,44)(46.5,44)(47.5,46)(48.5,46)(49.5,49)(50.5,48)(51.5,51)(52.5,50)(53.5,52)(54.5,53)(55.5,53)(46,40)(48,52)(52,47)(42,45)(56,57)(60,56)};
\addplot[reg] coordinates {(30,28)(80,78)};
\end{axis}
\node[lt] at (32,{776-555}) {I1};
\node[bt] at (112,{776-562}) {bias:2.847mm};
\node[bt] at (112,{776-568.5}) {LOA:19.522mm};
\node[dl] at (12,{776-593}) {Difference};
\node[al] at (82,{776-611}) {Average};
\node[ttl] at (80,{776-639}) {STJ Diameter D-circ};
\node[lt] at (181,{776-530}) {I2};
\node[bt] at (222,{776-545}) {r=0.8868};
\node[dl] at (183,{776-580}) {TEE};
\node[ml] at (252,{776-630}) {MDCT};
\node[ttl] at (252,{776-641}) {STJ Diameter D-circ};
\node[lt] at (350,{776-532}) {J1};
\node[bt] at (455,{776-547}) {bias:2.295mm};
\node[bt] at (455,{776-555}) {LOA:18.727};
\node[dl] at (350,{776-578}) {Difference};
\node[al] at (418,{776-600}) {Average};
\node[ttl] at (423,{776-641}) {STJ Diameter D-area};
\node[lt] at (516,{776-530}) {J2};
\node[bt] at (555,{776-545}) {r=0.8918};
\node[dl] at (521,{776-585}) {TEE};
\node[ml] at (589,{776-646}) {MDCT};
\node[ttl] at (589,{776-657}) {STJ Diameter D-area};
% ---------------- Row 6 ----------------
\begin{axis}[ba, at={(30pt,{(776-737)*1pt})}, width=104pt, height=69pt, xmin=0,xmax=100,ymin=-20,ymax=30, xtick={20,40,...,100}, ytick={-20,-10,...,30}]
\band{0}{100}{-5.4}{14.6}
\addplot[meanl] coordinates {(0,4.4)(100,4.4)};
\addplot[pts] coordinates {(52,22)(53,19)(55,20)(50,-18)(82,4)(73,3)(67,5)(63,8)(28,6)(30,2)(31,5)(32,-1)(33,7)(34,3)(35,0)(36,5)(37,9)(38,2)(38,6)(39,-2)(40,4)(40,12)(41,7)(42,1)(42,5)(43,-3)(44,9)(44,3)(45,6)(45,0)(46,11)(46,-5)(47,4)(47,8)(48,1)(48,13)(49,5)(49,-7)(50,3)(50,7)(51,0)(52,10)(52,4)(53,6)(54,2)(55,8)(56,5)(57,3)(58,7)(60,5)(62,4)(48,-8)(46,-4)
(38.5,4)(39.5,7)(40.5,2)(41.5,5)(42.5,8)(43.5,3)(44.5,6)(45.5,2)(46.5,7)(47.5,3)(48.5,6)(49.5,9)(50.5,5)(51.5,3)(52.5,7)(53.5,4)(54.5,9)(55.5,3)(56.5,6)(44,0)(46,5)(48,8)(50,10)(42,10)(36,2)(58,3)(45,12)(51,-2)};
\end{axis}
\begin{axis}[sc, at={(199pt,{(776-740)*1pt})}, width=106pt, height=75pt, xmin=0,xmax=100,ymin=0,ymax=100, xtick={0,20,...,100}, ytick={0,20,...,100}]
\addplot[pts] coordinates {(28,30)(30,27)(31,32)(32,29)(33,34)(34,31)(35,36)(36,33)(37,38)(38,34)(39,37)(40,40)(40,36)(41,39)(42,43)(43,40)(44,45)(44,41)(45,43)(46,47)(47,44)(48,49)(48,45)(49,48)(50,51)(50,46)(51,50)(52,53)(53,49)(54,52)(55,56)(56,52)(57,55)(58,58)(59,55)(60,60)(62,58)(63,62)(65,63)(68,65)(72,70)(78,75)(85,80)(46,52)(52,45)(40,45)(57,61)
(38.5,38)(39.5,39)(40.5,39)(41.5,41)(42.5,41)(43.5,43)(44.5,43)(45.5,46)(46.5,45)(47.5,48)(48.5,47)(49.5,50)(50.5,49)(51.5,52)(52.5,51)(53.5,53)(54.5,54)(55.5,54)(46,42)(48,51)(52,49)(42,46)(56,58)(61,59)};
\addplot[reg] coordinates {(30,28)(85,80)};
\end{axis}
\begin{axis}[ba, at={(369pt,{(776-735)*1pt})}, width=105pt, height=70pt, xmin=0,xmax=100,ymin=-30,ymax=30, xtick={20,40,...,100}, ytick={-30,-20,...,30}]
\band{0}{100}{-8}{9}
\addplot[meanl] coordinates {(0,0.6)(100,0.6)};
\addplot[pts] coordinates {(45,20)(40,-22)(28,2)(30,-2)(31,4)(32,0)(33,-4)(34,3)(35,7)(35,-1)(36,2)(37,-5)(38,5)(38,0)(39,-2)(40,3)(40,8)(41,-3)(42,1)(42,6)(43,-1)(43,-6)(44,4)(44,0)(45,2)(45,-3)(46,7)(46,-1)(47,3)(47,-4)(48,0)(48,5)(49,-2)(50,2)(50,-5)(51,4)(52,0)(53,-2)(54,3)(55,1)(36,-6)(41,9)(39,-7)
(38.5,2)(39.5,4)(40.5,-1)(41.5,2)(42.5,-3)(43.5,3)(44.5,-2)(45.5,5)(46.5,1)(47.5,-1)(48.5,2)(49.5,-3)(50.5,1)(51.5,-2)(52.5,3)(53.5,0)(54.5,-3)(36,4)(37,-1)(34,-2)(32,3)(30,1)(44,6)(48,-6)(41,5)(46,-5)};
\end{axis}
\begin{axis}[sc, at={(541pt,{(776-736)*1pt})}, width=106pt, height=68pt, xmin=0,xmax=80,ymin=0,ymax=100, xtick={0,20,...,80}, ytick={0,20,...,100}]
\addplot[pts] coordinates {(27,29)(28,32)(29,27)(29,31)(30,33)(30,29)(31,35)(31,31)(32,30)(32,34)(33,36)(33,32)(34,38)(34,33)(35,35)(35,31)(36,37)(36,40)(37,34)(38,38)(38,42)(39,36)(40,40)(40,44)(41,38)(42,42)(42,46)(43,40)(44,44)(45,48)(45,42)(46,46)(47,50)(48,44)(48,48)(49,52)(50,50)(50,46)(51,53)(52,48)(53,52)(55,54)(57,52)(58,55)(60,58)(62,60)(64,58)(66,62)(70,66)(73,80)(75,74)(40,58)(29,25)
(34.5,35)(35.5,37)(36.5,34)(37.5,37)(38.5,39)(39.5,38)(40.5,41)(41.5,42)(42.5,43)(43.5,42)(44.5,46)(45.5,45)(46.5,48)(47.5,47)(48.5,50)(49.5,49)(50.5,52)(51.5,50)(52.5,54)(54,50)(56,56)(32.5,32)(30.5,31)(33.5,34)(44,40)(50,55)};
\addplot[reg] coordinates {(28,29)(76,69)};
\end{axis}
\node[lt] at (32,{776-663}) {K1};
\node[bt] at (108,{776-669}) {bias:4.207mm};
\node[bt] at (108,{776-676}) {LOA:20.131mm};
\node[dl] at (12,{776-702}) {Difference};
\node[al] at (82,{776-727}) {Average};
\node[ttl] at (80,{776-746}) {STJ Diameter D-max};
\node[lt] at (181,{776-658}) {K2};
\node[bt] at (222,{776-670}) {r=0.8807};
\node[dl] at (183,{776-702}) {TEE};
\node[ml] at (252,{776-752}) {MDCT};
\node[ttl] at (252,{776-764}) {STJ Diameter D-max};
\node[lt] at (350,{776-660}) {L1};
\node[bt] at (455,{776-668}) {bias:0.5678mm};
\node[bt] at (455,{776-676}) {LOA:4.792};
\node[dl] at (350,{776-700}) {Difference};
\node[al] at (418,{776-725}) {Average};
\node[ttl] at (423,{776-764}) {STJ Diameter D-min};
\node[lt] at (539,{776-665}) {L2};
\node[bt] at (567,{776-677}) {r=0.8857};
\node[dl] at (521,{776-702}) {TEE};
\node[ml] at (591,{776-754}) {MDCT};
\node[ttl] at (592,{776-767}) {STJ Diameter D-min};
\end{tikzpicture}
\end{document}
